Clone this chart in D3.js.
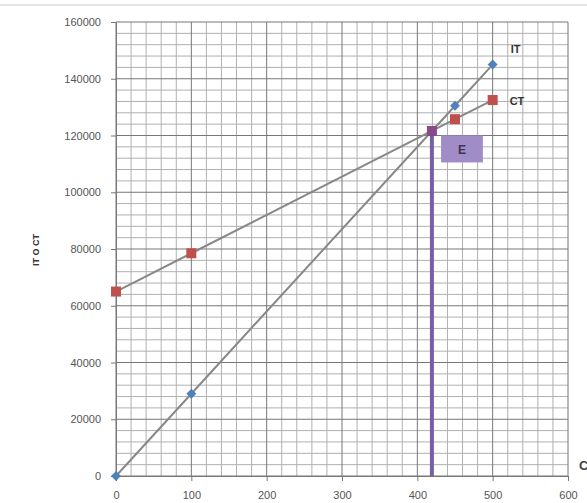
<!DOCTYPE html>
<html><head><meta charset="utf-8">
<script src="https://cdn.jsdelivr.net/npm/d3@7"></script>
<style>body{margin:0;background:#fff;}svg{display:block;font-family:"Liberation Sans",Arial,sans-serif;}</style>
</head><body>
<svg id="c" width="587" height="503"></svg>
<script>
const xTicks = [0,100,200,300,400,500,600];
const yTicks = [0,20000,40000,60000,80000,100000,120000,140000,160000];
const itQ = [0,100,419.35,450,500];
const itV = [0,29000,121600,130500,145000];
const ctQ = [0,100,419.35,450,500];
const ctV = [65000,78500,121600,125750,132500];
const breakEvenQ = 419.35, breakEvenV = 121600;
const seriesLabels = ["IT","CT"];
const yTitle = "IT O CT", xTitle = "C", boxLabel = "E";

const svg = d3.select("#c");
const L=116,R=568,T=22,B=476;
const x = d3.scaleLinear().domain([0,600]).range([L,R]);
const y = d3.scaleLinear().domain([0,160000]).range([B,T]);

svg.append("line").attr("x1",0).attr("x2",587).attr("y1",5).attr("y2",5).attr("stroke","#e6e6e6").attr("stroke-width",2);

const g = svg.append("g");
d3.range(0,601,20).forEach(v=>{ if(v%100) g.append("line").attr("x1",x(v)).attr("x2",x(v)).attr("y1",T).attr("y2",B).attr("stroke","#b0b0b0").attr("stroke-width",1);});
d3.range(0,160001,4000).forEach(v=>{ if(v%20000) g.append("line").attr("x1",L).attr("x2",R).attr("y1",y(v)).attr("y2",y(v)).attr("stroke","#b0b0b0").attr("stroke-width",1);});
xTicks.forEach(v=>g.append("line").attr("x1",x(v)).attr("x2",x(v)).attr("y1",T).attr("y2",B).attr("stroke","#777").attr("stroke-width",1));
yTicks.forEach(v=>g.append("line").attr("x1",L).attr("x2",R).attr("y1",y(v)).attr("y2",y(v)).attr("stroke","#777").attr("stroke-width",1));

const ax = svg.append("g").attr("transform",`translate(0,${B})`).call(d3.axisBottom(x).tickValues(xTicks).tickSize(5).tickPadding(10));
const ay = svg.append("g").attr("transform",`translate(${L},0)`).call(d3.axisLeft(y).tickValues(yTicks).tickSize(5).tickPadding(10).tickFormat(d3.format("d")));
[ax,ay].forEach(a=>{a.select(".domain").attr("stroke","#777");a.selectAll(".tick line").attr("stroke","#777");a.selectAll("text").attr("fill","#555").attr("font-size",11);});

const line = d3.line().x(d=>x(d[0])).y(d=>y(d[1]));
svg.append("path").datum(ctQ.map((q,i)=>[q,ctV[i]])).attr("d",line).attr("fill","none").attr("stroke","#888").attr("stroke-width",2);
svg.append("path").datum(itQ.map((q,i)=>[q,itV[i]])).attr("d",line).attr("fill","none").attr("stroke","#888").attr("stroke-width",2);

svg.append("line").attr("x1",x(breakEvenQ)).attr("x2",x(breakEvenQ)).attr("y1",y(breakEvenV)).attr("y2",y(0)).attr("stroke","#7560a8").attr("stroke-width",4);

const bx0 = x(431.5), bx1 = x(487), by0 = y(120000), bh = y(0)-y(9500);
svg.append("rect").attr("x",bx0).attr("y",by0).attr("width",bx1-bx0).attr("height",bh).attr("fill","#a08cc6");
svg.append("text").attr("x",(bx0+bx1)/2).attr("y",by0+bh/2+5).attr("text-anchor","middle").attr("font-size",12).attr("font-weight","bold").attr("fill","#3e3550").text(boxLabel);

ctQ.forEach((q,i)=>{
  svg.append("rect").attr("x",x(q)-5).attr("y",y(ctV[i])-5).attr("width",10).attr("height",10)
    .attr("fill", q===breakEvenQ ? "#8a4a8a" : "#c0504d");
});
itQ.forEach((q,i)=>{
  if(q===breakEvenQ) return;
  svg.append("rect").attr("x",-3.5).attr("y",-3.5).attr("width",7).attr("height",7)
    .attr("transform",`translate(${x(q)},${y(itV[i])}) rotate(45)`).attr("fill","#4f81bd");
});

svg.append("text").attr("x",x(500)+18).attr("y",y(145000)-12).attr("font-size",11).attr("font-weight","bold").attr("fill","#333").text(seriesLabels[0]);
svg.append("text").attr("x",x(500)+17).attr("y",y(132500)+5).attr("font-size",11).attr("font-weight","bold").attr("fill","#333").text(seriesLabels[1]);

svg.append("text").attr("transform","translate(39,250) rotate(-90)").attr("text-anchor","middle").attr("font-size",9).attr("font-weight","bold").attr("fill","#333").text(yTitle);
svg.append("text").attr("x",579).attr("y",470).attr("font-size",13).attr("font-weight","bold").attr("fill","#444").text(xTitle);
</script>
</body></html>
